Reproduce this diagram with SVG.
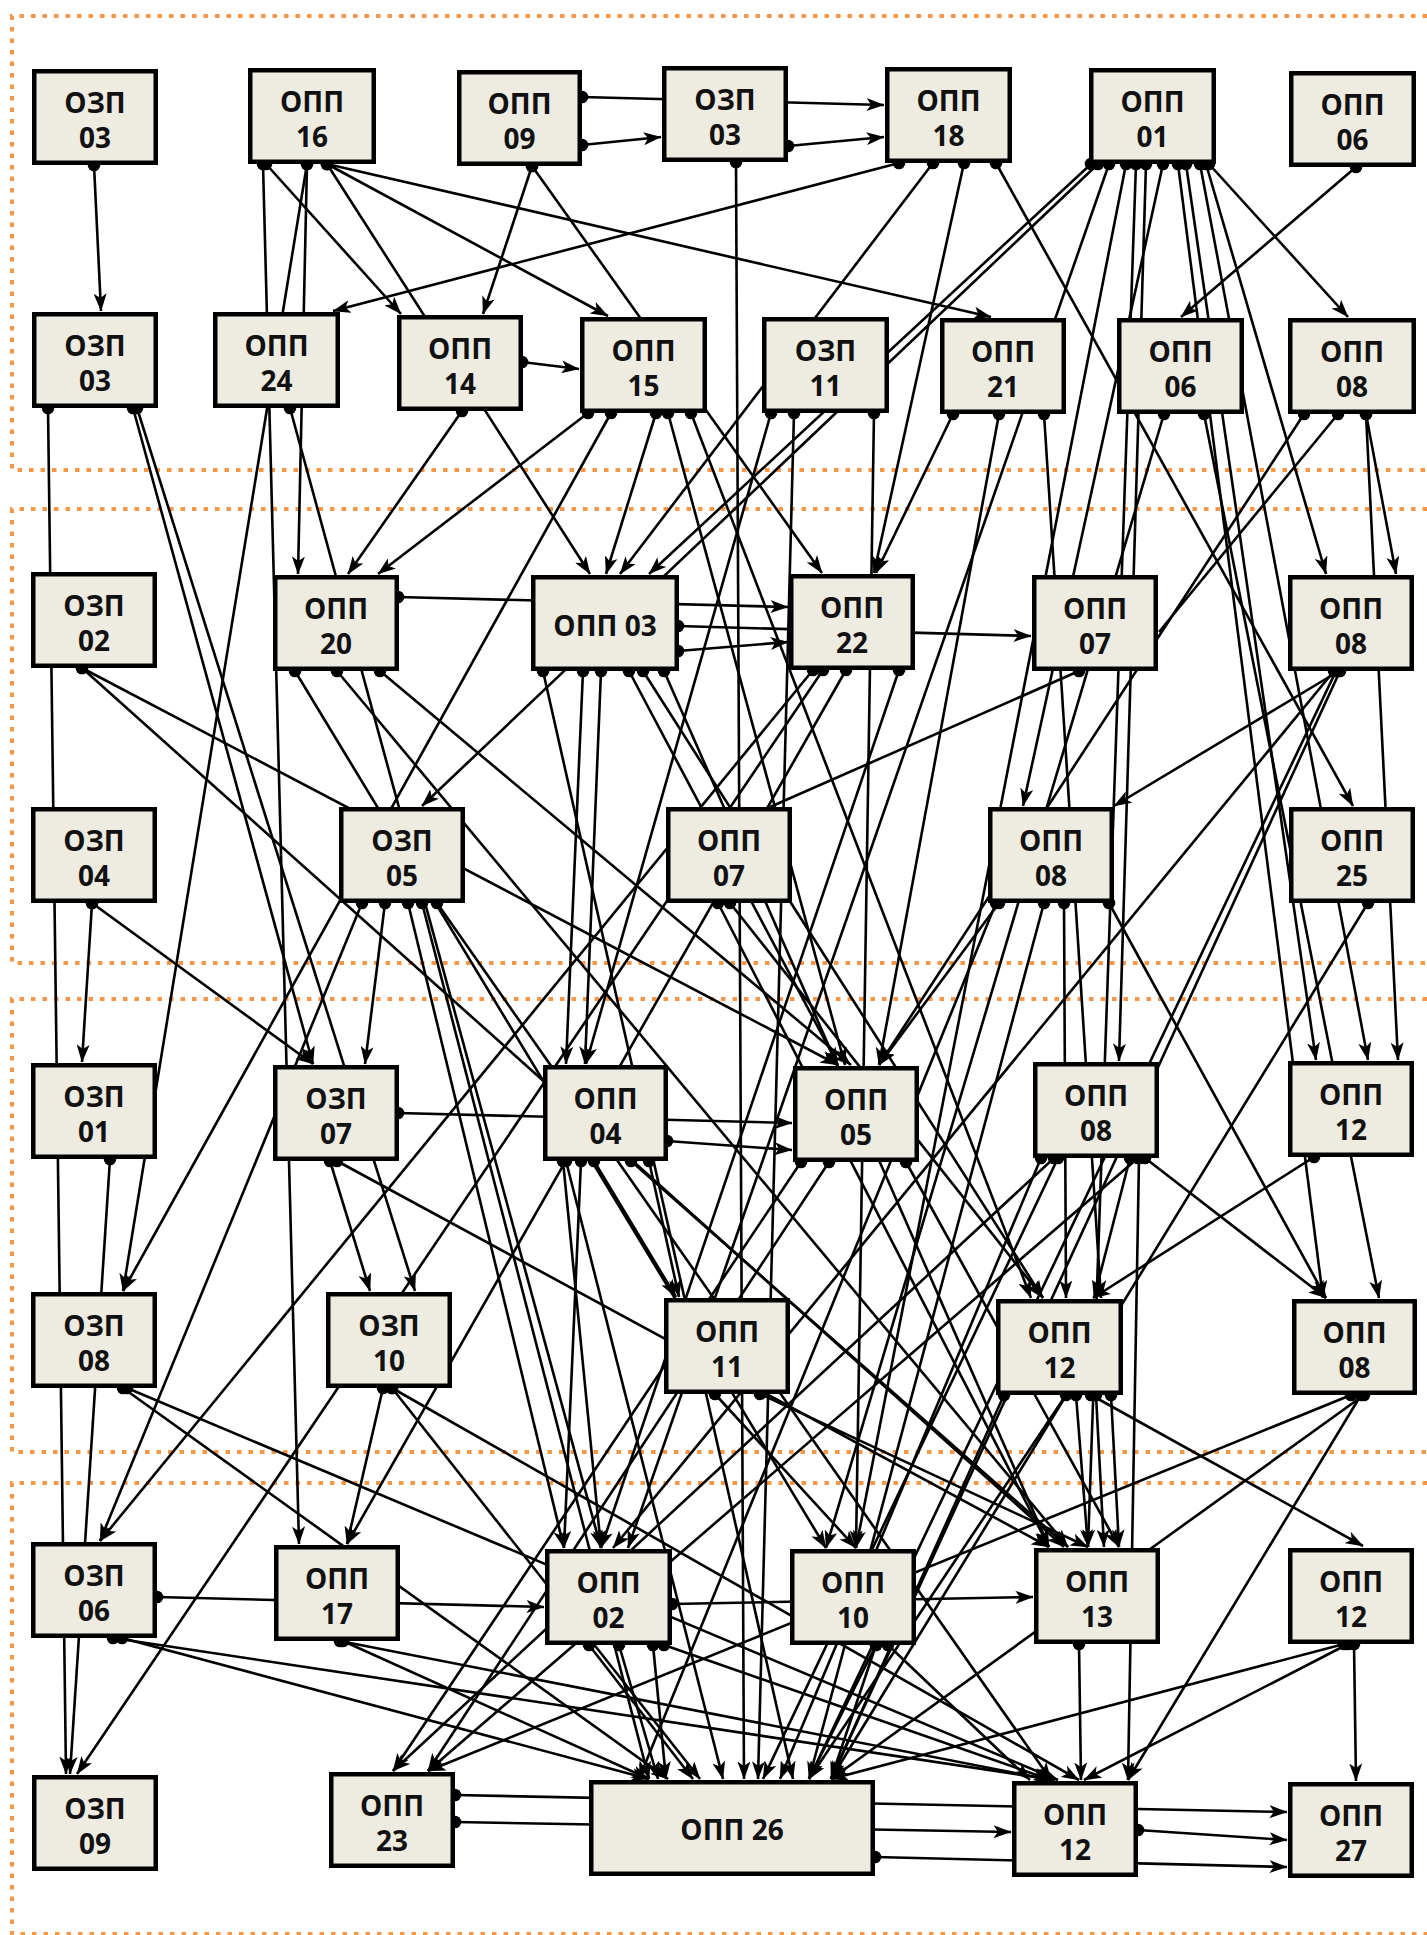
<svg xmlns="http://www.w3.org/2000/svg" width="1427" height="1935" viewBox="0 0 1427 1935">
<style>
.n rect{fill:#EEECE1;stroke:#000;stroke-width:4.5}
.n text{font-family:"Open Sans","Liberation Sans","Noto Sans",sans-serif;font-weight:700;font-size:28px;text-anchor:middle;fill:#111}
.e line{stroke:#000;stroke-width:2.6;fill:none;marker-start:url(#dot);marker-end:url(#arr)}
.e line.na{marker-end:none}
.fr{fill:none;stroke:#F79646;stroke-width:4;stroke-dasharray:4.5 7}
</style>
<defs>
<marker id="arr" viewBox="0 0 18 13" markerWidth="18" markerHeight="13" refX="17.5" refY="6.5" orient="auto" markerUnits="userSpaceOnUse"><path d="M0,0 L18,6.5 L0,13 L4.5,6.5 Z" fill="#000"/></marker>
<marker id="dot" viewBox="0 0 14 14" markerWidth="14" markerHeight="14" refX="7" refY="7" orient="0" markerUnits="userSpaceOnUse"><circle cx="7" cy="7" r="6.3" fill="#000"/></marker>
</defs>
<rect width="1427" height="1935" fill="#fff"/>
<g id="frames">
<path class="fr" d="M1427,16 H12 V470 H1427"/>
<path class="fr" d="M1427,509 H12 V963 H1427"/>
<path class="fr" d="M1427,999 H12 V1452 H1427"/>
<path class="fr" d="M1427,1483 H12 V1934 H1427"/>
</g>
<g id="connectors" class="e">
<line x1="94" y1="165" x2="101" y2="311"/>
<line x1="263" y1="164" x2="299" y2="1544"/>
<line x1="266" y1="164" x2="401" y2="314"/>
<line x1="307" y1="164" x2="298" y2="574"/>
<line x1="307" y1="164" x2="123" y2="1291"/>
<line x1="327" y1="164" x2="590" y2="574"/>
<line x1="327" y1="164" x2="608" y2="316"/>
<line x1="327" y1="164" x2="991" y2="317"/>
<line x1="582" y1="97" x2="884" y2="105"/>
<line x1="582" y1="145" x2="661" y2="137"/>
<line x1="532" y1="166" x2="483" y2="314"/>
<line x1="532" y1="166" x2="822" y2="573"/>
<line x1="788" y1="146" x2="884" y2="137"/>
<line x1="736" y1="162" x2="744" y2="1779"/>
<line x1="899" y1="163" x2="333" y2="311"/>
<line x1="933" y1="163" x2="620" y2="574"/>
<line x1="964" y1="163" x2="874" y2="573"/>
<line x1="996" y1="163" x2="1353" y2="806"/>
<line x1="1091" y1="164" x2="649" y2="574"/>
<line x1="1098" y1="164" x2="422" y2="806"/>
<line x1="1109" y1="164" x2="628" y2="1548"/>
<line x1="1209" y1="164" x2="1348" y2="317"/>
<line x1="1356" y1="167" x2="1181" y2="317"/>
<line x1="522" y1="362" x2="579" y2="369"/>
<line x1="462" y1="411" x2="348" y2="574"/>
<line x1="588" y1="413" x2="378" y2="574"/>
<line x1="656" y1="413" x2="606" y2="574"/>
<line x1="48" y1="408" x2="66" y2="1774"/>
<line x1="290" y1="408" x2="601" y2="1548"/>
<line x1="1163" y1="164" x2="1023" y2="806"/>
<line x1="1126" y1="164" x2="856" y2="1548"/>
<line x1="1146" y1="164" x2="1119" y2="1061"/>
<line x1="1136" y1="164" x2="1088" y2="1547"/>
<line x1="1186" y1="164" x2="1316" y2="1060"/>
<line x1="1200" y1="164" x2="1368" y2="1060"/>
<line x1="1178" y1="164" x2="1323" y2="1298"/>
<line x1="1206" y1="164" x2="1326" y2="574"/>
<line x1="1366" y1="414" x2="1396" y2="574"/>
<line x1="1366" y1="414" x2="1398" y2="1060"/>
<line x1="1304" y1="414" x2="879" y2="1065"/>
<line class="na" x1="1338" y1="414" x2="1159" y2="632"/>
<line x1="1164" y1="414" x2="826" y2="1548"/>
<line x1="1204" y1="414" x2="1379" y2="1298"/>
<line x1="953" y1="414" x2="876" y2="573"/>
<line x1="999" y1="414" x2="879" y2="1065"/>
<line x1="1044" y1="414" x2="1101" y2="1298"/>
<line x1="611" y1="413" x2="123" y2="1291"/>
<line x1="668" y1="413" x2="845" y2="1065"/>
<line x1="691" y1="413" x2="1031" y2="1298"/>
<line x1="771" y1="413" x2="586" y2="1064"/>
<line x1="794" y1="413" x2="758" y2="1779"/>
<line x1="874" y1="413" x2="856" y2="1548"/>
<line x1="133" y1="408" x2="313" y2="1064"/>
<line x1="137" y1="408" x2="415" y2="1291"/>
<line x1="398" y1="597" x2="788" y2="607"/>
<line x1="678" y1="626" x2="1031" y2="636"/>
<line x1="678" y1="651" x2="788" y2="642"/>
<line x1="82" y1="668" x2="838" y2="1065"/>
<line x1="82" y1="668" x2="1064" y2="1547"/>
<line x1="295" y1="671" x2="826" y2="1548"/>
<line x1="337" y1="671" x2="1068" y2="1547"/>
<line x1="380" y1="671" x2="851" y2="1065"/>
<line x1="543" y1="671" x2="793" y2="1779"/>
<line x1="583" y1="671" x2="566" y2="1064"/>
<line x1="601" y1="671" x2="585" y2="1064"/>
<line x1="629" y1="671" x2="838" y2="1065"/>
<line x1="643" y1="671" x2="1043" y2="1298"/>
<line x1="664" y1="671" x2="1049" y2="1547"/>
<line x1="1339" y1="671" x2="1114" y2="806"/>
<line x1="1334" y1="671" x2="613" y2="1548"/>
<line x1="1336" y1="671" x2="809" y2="1779"/>
<line x1="1340" y1="671" x2="831" y2="1779"/>
<line class="na" x1="1079" y1="671" x2="770" y2="807"/>
<line x1="92" y1="903" x2="82" y2="1062"/>
<line x1="92" y1="903" x2="313" y2="1064"/>
<line x1="362" y1="903" x2="100" y2="1541"/>
<line x1="385" y1="903" x2="365" y2="1064"/>
<line x1="408" y1="903" x2="564" y2="1548"/>
<line x1="422" y1="903" x2="649" y2="1779"/>
<line x1="437" y1="903" x2="1051" y2="1780"/>
<line x1="813" y1="670" x2="100" y2="1541"/>
<line x1="823" y1="670" x2="77" y2="1774"/>
<line x1="846" y1="670" x2="347" y2="1544"/>
<line x1="899" y1="670" x2="601" y2="1548"/>
<line x1="718" y1="903" x2="1049" y2="1547"/>
<line x1="730" y1="903" x2="1043" y2="1298"/>
<line x1="999" y1="903" x2="879" y2="1065"/>
<line x1="996" y1="903" x2="639" y2="1779"/>
<line x1="1044" y1="903" x2="809" y2="1779"/>
<line x1="1064" y1="903" x2="1066" y2="1298"/>
<line x1="1109" y1="903" x2="1326" y2="1298"/>
<line x1="1368" y1="903" x2="831" y2="1779"/>
<line x1="110" y1="1159" x2="70" y2="1774"/>
<line x1="330" y1="1161" x2="370" y2="1291"/>
<line x1="337" y1="1161" x2="1049" y2="1547"/>
<line x1="398" y1="1113" x2="792" y2="1123"/>
<line x1="667" y1="1141" x2="792" y2="1150"/>
<line x1="563" y1="1161" x2="601" y2="1548"/>
<line x1="566" y1="1161" x2="723" y2="1779"/>
<line x1="581" y1="1161" x2="564" y2="1548"/>
<line x1="594" y1="1161" x2="676" y2="1297"/>
<line x1="649" y1="1161" x2="679" y2="1297"/>
<line x1="631" y1="1161" x2="1068" y2="1547"/>
<line x1="801" y1="1162" x2="393" y2="1771"/>
<line x1="829" y1="1162" x2="428" y2="1771"/>
<line x1="906" y1="1162" x2="1119" y2="1547"/>
<line x1="1054" y1="1158" x2="393" y2="1771"/>
<line x1="1138" y1="1158" x2="428" y2="1771"/>
<line x1="1041" y1="1158" x2="780" y2="1779"/>
<line x1="1058" y1="1158" x2="763" y2="1779"/>
<line x1="1130" y1="1158" x2="1094" y2="1298"/>
<line x1="1139" y1="1158" x2="1128" y2="1780"/>
<line x1="1145" y1="1158" x2="1326" y2="1298"/>
<line x1="1314" y1="1157" x2="1093" y2="1298"/>
<line x1="123" y1="1388" x2="668" y2="1779"/>
<line x1="127" y1="1388" x2="1058" y2="1780"/>
<line x1="383" y1="1388" x2="347" y2="1544"/>
<line x1="392" y1="1388" x2="700" y2="1779"/>
<line x1="392" y1="1388" x2="1079" y2="1780"/>
<line x1="715" y1="1394" x2="856" y2="1548"/>
<line x1="760" y1="1394" x2="1088" y2="1547"/>
<line x1="1091" y1="1395" x2="1363" y2="1546"/>
<line x1="1076" y1="1395" x2="1088" y2="1547"/>
<line x1="1096" y1="1395" x2="1104" y2="1547"/>
<line x1="1111" y1="1395" x2="1119" y2="1547"/>
<line x1="1004" y1="1395" x2="831" y2="1779"/>
<line x1="1066" y1="1395" x2="809" y2="1779"/>
<line x1="1351" y1="1395" x2="428" y2="1771"/>
<line x1="1364" y1="1395" x2="831" y2="1779"/>
<line x1="1361" y1="1395" x2="1128" y2="1780"/>
<line x1="157" y1="1597" x2="544" y2="1607"/>
<line x1="113" y1="1638" x2="1055" y2="1780"/>
<line x1="122" y1="1638" x2="649" y2="1779"/>
<line x1="340" y1="1641" x2="1051" y2="1780"/>
<line x1="343" y1="1641" x2="649" y2="1779"/>
<line x1="589" y1="1645" x2="693" y2="1779"/>
<line x1="619" y1="1645" x2="658" y2="1779"/>
<line x1="653" y1="1645" x2="666" y2="1779"/>
<line x1="664" y1="1645" x2="1051" y2="1780"/>
<line x1="672" y1="1604" x2="1033" y2="1597"/>
<line x1="876" y1="1645" x2="809" y2="1779"/>
<line x1="876" y1="1645" x2="831" y2="1779"/>
<line x1="888" y1="1645" x2="1030" y2="1780"/>
<line x1="1079" y1="1644" x2="1081" y2="1780"/>
<line x1="1344" y1="1644" x2="831" y2="1779"/>
<line x1="1348" y1="1644" x2="1084" y2="1780"/>
<line x1="1354" y1="1644" x2="1356" y2="1781"/>
<line x1="455" y1="1795" x2="1287" y2="1812"/>
<line x1="455" y1="1822" x2="1011" y2="1832"/>
<line x1="875" y1="1857" x2="1287" y2="1867"/>
<line x1="1138" y1="1830" x2="1287" y2="1840"/>
</g>
<g id="ozp03a" class="n"><rect x="34.25" y="71.25" width="121.5" height="91.5"/><text x="95" y="113">ОЗП</text><text x="95" y="148">03</text></g>
<g id="opp16" class="n"><rect x="250.25" y="70.25" width="123.5" height="91.5"/><text x="312" y="112">ОПП</text><text x="312" y="147">16</text></g>
<g id="opp09" class="n"><rect x="459.25" y="72.25" width="120.5" height="91.5"/><text x="519.5" y="114">ОПП</text><text x="519.5" y="149">09</text></g>
<g id="ozp03b" class="n"><rect x="664.25" y="68.25" width="121.5" height="91.5"/><text x="725" y="110">ОЗП</text><text x="725" y="145">03</text></g>
<g id="opp18" class="n"><rect x="887.25" y="69.25" width="122.5" height="91.5"/><text x="948.5" y="111">ОПП</text><text x="948.5" y="146">18</text></g>
<g id="opp01" class="n"><rect x="1091.25" y="70.25" width="122.5" height="91.5"/><text x="1152.5" y="112">ОПП</text><text x="1152.5" y="147">01</text></g>
<g id="opp06a" class="n"><rect x="1291.25" y="73.25" width="122.5" height="91.5"/><text x="1352.5" y="115">ОПП</text><text x="1352.5" y="150">06</text></g>
<g id="ozp03c" class="n"><rect x="34.25" y="314.25" width="121.5" height="91.5"/><text x="95" y="356">ОЗП</text><text x="95" y="391">03</text></g>
<g id="opp24" class="n"><rect x="215.25" y="314.25" width="122.5" height="91.5"/><text x="276.5" y="356">ОПП</text><text x="276.5" y="391">24</text></g>
<g id="opp14" class="n"><rect x="399.25" y="317.25" width="121.5" height="91.5"/><text x="460" y="359">ОПП</text><text x="460" y="394">14</text></g>
<g id="opp15" class="n"><rect x="582.25" y="319.25" width="122.5" height="91.5"/><text x="643.5" y="361">ОПП</text><text x="643.5" y="396">15</text></g>
<g id="ozp11" class="n"><rect x="764.25" y="319.25" width="122.5" height="91.5"/><text x="825.5" y="361">ОЗП</text><text x="825.5" y="396">11</text></g>
<g id="opp21" class="n"><rect x="942.25" y="320.25" width="121.5" height="91.5"/><text x="1003" y="362">ОПП</text><text x="1003" y="397">21</text></g>
<g id="opp06b" class="n"><rect x="1119.25" y="320.25" width="122.5" height="91.5"/><text x="1180.5" y="362">ОПП</text><text x="1180.5" y="397">06</text></g>
<g id="opp08a" class="n"><rect x="1290.25" y="320.25" width="123.5" height="91.5"/><text x="1352" y="362">ОПП</text><text x="1352" y="397">08</text></g>
<g id="ozp02" class="n"><rect x="33.25" y="574.25" width="121.5" height="91.5"/><text x="94" y="616">ОЗП</text><text x="94" y="651">02</text></g>
<g id="opp20" class="n"><rect x="275.25" y="577.25" width="121.5" height="91.5"/><text x="336" y="619">ОПП</text><text x="336" y="654">20</text></g>
<g id="opp03" class="n"><rect x="533.25" y="577.25" width="143.5" height="91.5"/><text x="605" y="636">ОПП 03</text></g>
<g id="opp22" class="n"><rect x="791.25" y="576.25" width="121.5" height="91.5"/><text x="852" y="618">ОПП</text><text x="852" y="653">22</text></g>
<g id="opp07a" class="n"><rect x="1034.25" y="577.25" width="121.5" height="91.5"/><text x="1095" y="619">ОПП</text><text x="1095" y="654">07</text></g>
<g id="opp08b" class="n"><rect x="1290.25" y="577.25" width="121.5" height="91.5"/><text x="1351" y="619">ОПП</text><text x="1351" y="654">08</text></g>
<g id="ozp04" class="n"><rect x="33.25" y="809.25" width="121.5" height="91.5"/><text x="94" y="851">ОЗП</text><text x="94" y="886">04</text></g>
<g id="ozp05" class="n"><rect x="341.25" y="809.25" width="121.5" height="91.5"/><text x="402" y="851">ОЗП</text><text x="402" y="886">05</text></g>
<g id="opp07b" class="n"><rect x="668.25" y="809.25" width="121.5" height="91.5"/><text x="729" y="851">ОПП</text><text x="729" y="886">07</text></g>
<g id="opp08c" class="n"><rect x="990.25" y="809.25" width="121.5" height="91.5"/><text x="1051" y="851">ОПП</text><text x="1051" y="886">08</text></g>
<g id="opp25" class="n"><rect x="1291.25" y="809.25" width="121.5" height="91.5"/><text x="1352" y="851">ОПП</text><text x="1352" y="886">25</text></g>
<g id="ozp01" class="n"><rect x="33.25" y="1065.25" width="121.5" height="91.5"/><text x="94" y="1107">ОЗП</text><text x="94" y="1142">01</text></g>
<g id="ozp07" class="n"><rect x="275.25" y="1067.25" width="121.5" height="91.5"/><text x="336" y="1109">ОЗП</text><text x="336" y="1144">07</text></g>
<g id="opp04" class="n"><rect x="545.25" y="1067.25" width="120.5" height="91.5"/><text x="605.5" y="1109">ОПП</text><text x="605.5" y="1144">04</text></g>
<g id="opp05" class="n"><rect x="795.25" y="1068.25" width="121.5" height="91.5"/><text x="856" y="1110">ОПП</text><text x="856" y="1145">05</text></g>
<g id="opp08d" class="n"><rect x="1035.25" y="1064.25" width="121.5" height="91.5"/><text x="1096" y="1106">ОПП</text><text x="1096" y="1141">08</text></g>
<g id="opp12a" class="n"><rect x="1290.25" y="1063.25" width="121.5" height="91.5"/><text x="1351" y="1105">ОПП</text><text x="1351" y="1140">12</text></g>
<g id="ozp08" class="n"><rect x="33.25" y="1294.25" width="121.5" height="91.5"/><text x="94" y="1336">ОЗП</text><text x="94" y="1371">08</text></g>
<g id="ozp10" class="n"><rect x="328.25" y="1294.25" width="121.5" height="91.5"/><text x="389" y="1336">ОЗП</text><text x="389" y="1371">10</text></g>
<g id="opp11" class="n"><rect x="666.25" y="1300.25" width="121.5" height="91.5"/><text x="727" y="1342">ОПП</text><text x="727" y="1377">11</text></g>
<g id="opp12b" class="n"><rect x="998.25" y="1301.25" width="122.5" height="91.5"/><text x="1059.5" y="1343">ОПП</text><text x="1059.5" y="1378">12</text></g>
<g id="opp08e" class="n"><rect x="1294.25" y="1301.25" width="120.5" height="91.5"/><text x="1354.5" y="1343">ОПП</text><text x="1354.5" y="1378">08</text></g>
<g id="ozp06" class="n"><rect x="33.25" y="1544.25" width="121.5" height="91.5"/><text x="94" y="1586">ОЗП</text><text x="94" y="1621">06</text></g>
<g id="opp17" class="n"><rect x="276.25" y="1547.25" width="121.5" height="91.5"/><text x="337" y="1589">ОПП</text><text x="337" y="1624">17</text></g>
<g id="opp02" class="n"><rect x="547.25" y="1551.25" width="122.5" height="91.5"/><text x="608.5" y="1593">ОПП</text><text x="608.5" y="1628">02</text></g>
<g id="opp10" class="n"><rect x="792.25" y="1551.25" width="121.5" height="91.5"/><text x="853" y="1593">ОПП</text><text x="853" y="1628">10</text></g>
<g id="opp13" class="n"><rect x="1036.25" y="1550.25" width="121.5" height="91.5"/><text x="1097" y="1592">ОПП</text><text x="1097" y="1627">13</text></g>
<g id="opp12c" class="n"><rect x="1290.25" y="1550.25" width="121.5" height="91.5"/><text x="1351" y="1592">ОПП</text><text x="1351" y="1627">12</text></g>
<g id="ozp09" class="n"><rect x="34.25" y="1777.25" width="121.5" height="91.5"/><text x="95" y="1819">ОЗП</text><text x="95" y="1854">09</text></g>
<g id="opp23" class="n"><rect x="331.25" y="1774.25" width="121.5" height="91.5"/><text x="392" y="1816">ОПП</text><text x="392" y="1851">23</text></g>
<g id="opp26" class="n"><rect x="591.25" y="1782.25" width="281.5" height="91.5"/><text x="732" y="1840">ОПП 26</text></g>
<g id="opp12d" class="n"><rect x="1014.25" y="1783.25" width="121.5" height="91.5"/><text x="1075" y="1825">ОПП</text><text x="1075" y="1860">12</text></g>
<g id="opp27" class="n"><rect x="1290.25" y="1784.25" width="121.5" height="91.5"/><text x="1351" y="1826">ОПП</text><text x="1351" y="1861">27</text></g>
</svg>
